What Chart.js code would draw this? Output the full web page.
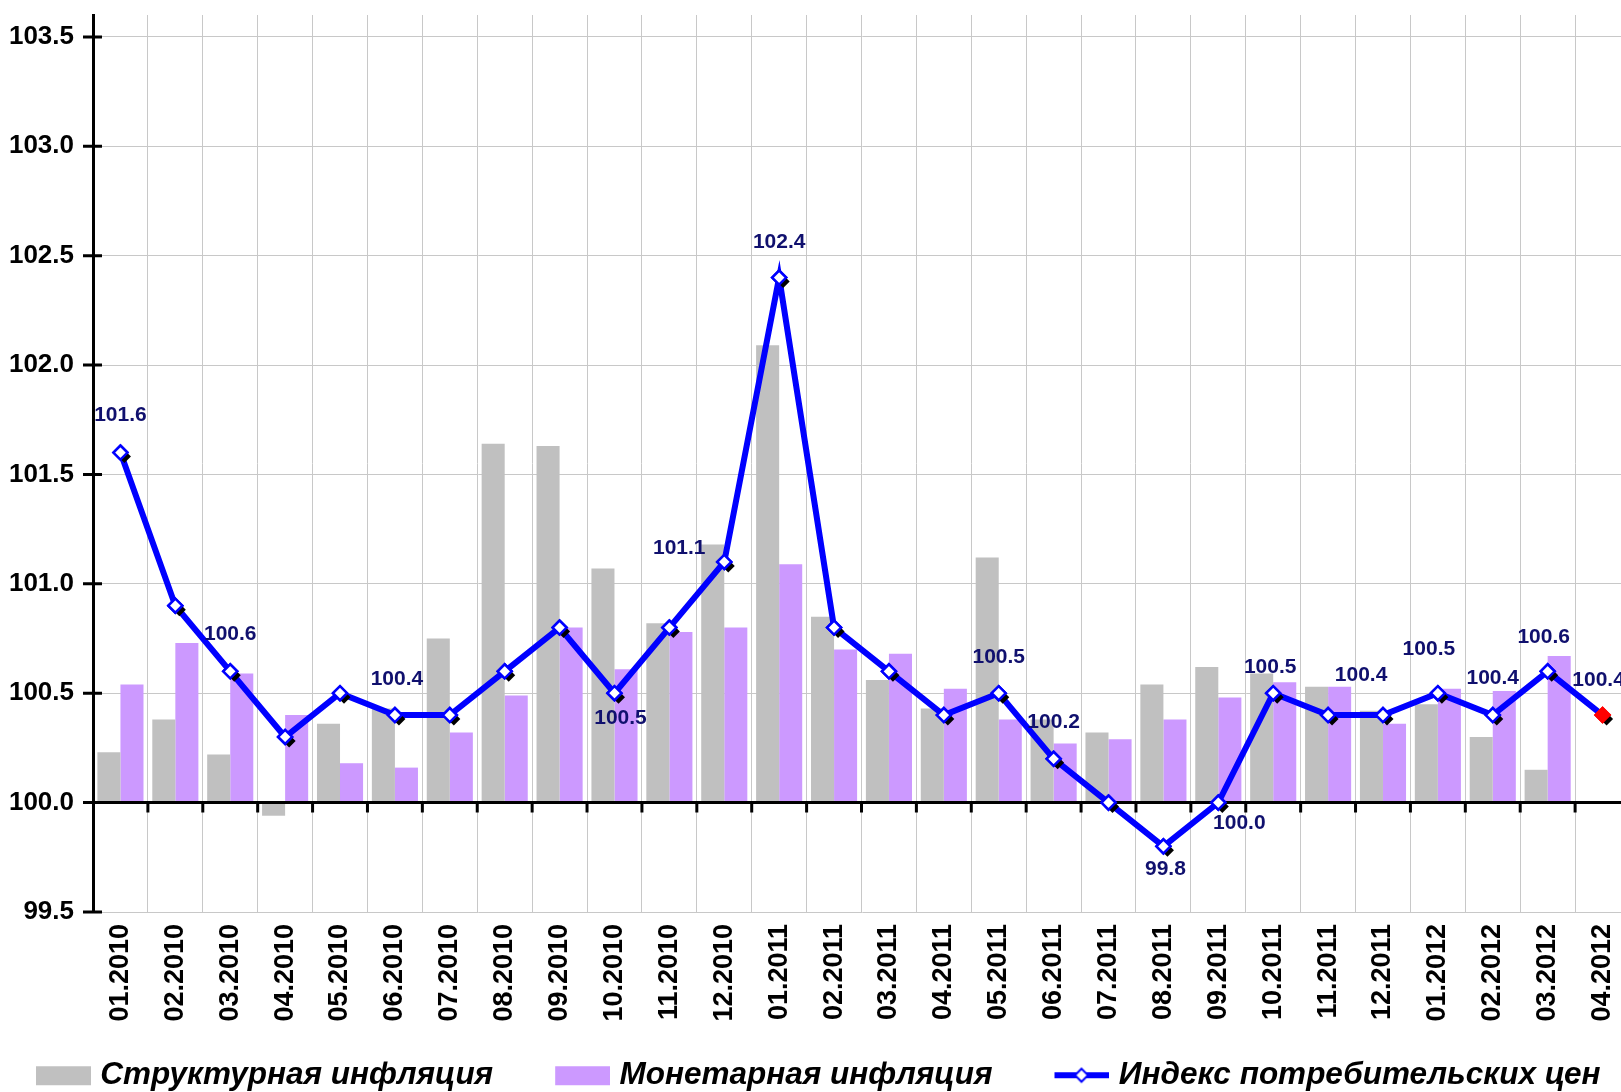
<!DOCTYPE html>
<html lang="ru">
<head>
<meta charset="utf-8">
<title>Инфляция</title>
<script src="https://cdn.jsdelivr.net/npm/chart.js@4.4.1/dist/chart.umd.min.js"></script>
<style>
  html, body { margin: 0; padding: 0; background: #fff; overflow: hidden; }
  #wrap { position: relative; width: 1640px; height: 1092px; }
</style>
</head>
<body>
<div id="wrap"><canvas id="inflChart"></canvas></div>
<script>
// Месяцы
const months = ['01.2010', '02.2010', '03.2010', '04.2010', '05.2010', '06.2010', '07.2010',
  '08.2010', '09.2010', '10.2010', '11.2010', '12.2010', '01.2011', '02.2011', '03.2011',
  '04.2011', '05.2011', '06.2011', '07.2011', '08.2011', '09.2011', '10.2011', '11.2011',
  '12.2011', '01.2012', '02.2012', '03.2012', '04.2012'];

// Структурная инфляция (столбики от 100)
const structural = [100.23, 100.38, 100.22, 99.94, 100.36, 100.43, 100.75, 101.64, 101.63, 101.07,
  100.82, 101.18, 102.09, 100.85, 100.56, 100.43, 101.12, 100.38, 100.32, 100.54, 100.62, 100.59,
  100.53, 100.42, 100.45, 100.30, 100.15, null];

// Монетарная инфляция
const monetary = [100.54, 100.73, 100.59, 100.40, 100.18, 100.16, 100.32, 100.49, 100.80, 100.61,
  100.78, 100.80, 101.09, 100.70, 100.68, 100.52, 100.38, 100.27, 100.29, 100.38, 100.48, 100.55,
  100.53, 100.36, 100.52, 100.51, 100.67, null];

// Индекс потребительских цен
const cpi = [101.6, 100.9, 100.6, 100.3, 100.5, 100.4, 100.4, 100.6, 100.8, 100.5, 100.8, 101.1,
  102.4, 100.8, 100.6, 100.4, 100.5, 100.2, 100.0, 99.8, 100.0, 100.5, 100.4, 100.4, 100.5, 100.4,
  100.6, 100.4];

// Подписи оси Y
const yTicks = [99.5, 100.0, 100.5, 101.0, 101.5, 102.0, 102.5, 103.0, 103.5];

// Где рисовать подписи значений ИПЦ (смещение от точки, px)
const labelPlacement = {
  '01.2010': [0, -37], '03.2010': [0, -37], '06.2010': [2, -36], '10.2010': [6, 25],
  '12.2010': [-45, -14], '01.2011': [0, -35], '05.2011': [0, -36], '06.2011': [0, -37],
  '08.2011': [2, 23], '09.2011': [21, 21], '10.2011': [-3, -26], '11.2011': [33, -40],
  '01.2012': [-9, -44], '02.2012': [0, -37], '03.2012': [-4, -34], '04.2012': [-4, -35]
};

const FONT = '"Liberation Sans", Arial, sans-serif';
const LINE_IDX = 2;
const PAD = { top: 15, right: 10, left: -45, bottom: -9 };
const AREA_LEFT = 93;
const AREA_BOTTOM = 912;

function diamond(ctx, x, y, r) {
  ctx.beginPath();
  ctx.moveTo(x, y - r);
  ctx.lineTo(x + r, y);
  ctx.lineTo(x, y + r);
  ctx.lineTo(x - r, y);
  ctx.closePath();
}

// Значки легенды (картинка шире блока, чтобы сдвинуть значок к тексту)
function makeIcon(draw) {
  const c = document.createElement('canvas');
  c.width = 113; c.height = 22;
  draw(c.getContext('2d'));
  return c;
}
const legendIcons = [
  makeIcon(g => { g.fillStyle = '#c0c0c0'; g.fillRect(58, 2, 55, 19); }),
  makeIcon(g => { g.fillStyle = '#cc99ff'; g.fillRect(58, 2, 55, 19); }),
  makeIcon(g => {
    g.strokeStyle = '#0000ff'; g.lineWidth = 6;
    g.beginPath(); g.moveTo(58, 11); g.lineTo(113, 11); g.stroke();
    diamond(g, 85, 11, 6.5);
    g.fillStyle = '#fff'; g.fill();
    g.lineWidth = 2; g.stroke();
  })
];

// Ось X на уровне 100, засечки, тени маркеров и подписи
const axisMarks = {
  id: 'axisMarks',
  beforeDatasetDraw(chart, args) {
    if (args.index !== LINE_IDX) return;
    const {ctx, chartArea, scales: {x, y}} = chart;
    const y0 = y.getPixelForValue(100);
    ctx.save();
    ctx.strokeStyle = '#000';
    ctx.lineWidth = 3;
    ctx.beginPath();
    ctx.moveTo(chartArea.left, y0);
    ctx.lineTo(chartArea.right, y0);
    for (let i = 1; i < months.length; i++) {
      const bx = (x.getPixelForTick(i - 1) + x.getPixelForTick(i)) / 2;
      ctx.moveTo(bx, y0);
      ctx.lineTo(bx, y0 + 10);
    }
    y.ticks.forEach(t => {
      const ty = y.getPixelForValue(t.value);
      ctx.moveTo(chartArea.left - 10, ty);
      ctx.lineTo(chartArea.left + 9, ty);
    });
    ctx.stroke();
    ctx.restore();
  },
  afterDatasetDraw(chart, args) {
    if (args.index !== LINE_IDX) return;
    const ctx = chart.ctx;
    const pts = args.meta.data;
    ctx.save();
    ctx.fillStyle = '#000';
    pts.forEach(p => { diamond(ctx, p.x + 4, p.y + 4, 6.5); ctx.fill(); });
    ctx.restore();
    pts.forEach(p => p.draw(ctx, chart.chartArea));
    ctx.save();
    ctx.font = 'bold 21px ' + FONT;
    ctx.fillStyle = '#10106e';
    ctx.textAlign = 'center';
    ctx.textBaseline = 'middle';
    months.forEach((m, i) => {
      const off = labelPlacement[m];
      if (!off) return;
      ctx.fillText(cpi[i].toFixed(1), pts[i].x + off[0], pts[i].y + off[1]);
    });
    ctx.restore();
  }
};

function initInflationChart() {
  const ctx = document.getElementById('inflChart').getContext('2d');

  const data = {
    labels: months,
    datasets: [{
      label: 'Структурная инфляция',
      data: structural,
      backgroundColor: '#c0c0c0',
      base: 100,
      borderWidth: 0,
      categoryPercentage: 0.84,
      barPercentage: 1.0,
      order: 0
    }, {
      label: 'Монетарная инфляция',
      data: monetary,
      backgroundColor: '#cc99ff',
      base: 100,
      borderWidth: 0,
      categoryPercentage: 0.84,
      barPercentage: 1.0,
      order: 0
    }, {
      type: 'line',
      label: 'Индекс потребительских цен',
      data: cpi,
      borderColor: '#0000ff',
      borderWidth: 6,
      tension: 0,
      fill: false,
      pointStyle: 'rectRot',
      pointRadius: 7,
      pointBorderWidth: 2.5,
      pointBackgroundColor: cpi.map((v, i) => i === cpi.length - 1 ? '#ff0000' : '#ffffff'),
      pointBorderColor: cpi.map((v, i) => i === cpi.length - 1 ? '#ff0000' : '#0000ff'),
      order: -1
    }]
  };

  const config = {
    type: 'bar',
    data: data,
    plugins: [axisMarks],
    options: {
      responsive: true,
      maintainAspectRatio: false,
      animation: false,
      layout: { padding: PAD },
      font: { family: FONT },
      plugins: {
        tooltip: { enabled: false },
        legend: {
          position: 'bottom',
          labels: {
            usePointStyle: true,
            pointStyleWidth: 100,
            boxHeight: 22,
            padding: 10.5,
            color: '#000',
            font: { family: FONT, size: 31.5, style: 'italic', weight: 'bold' },
            sort: (a, b) => a.datasetIndex - b.datasetIndex,
            generateLabels(chart) {
              const items = Chart.defaults.plugins.legend.labels.generateLabels(chart);
              items.forEach(it => { it.pointStyle = legendIcons[it.datasetIndex]; });
              return items;
            }
          }
        }
      },
      scales: {
        x: {
          offset: true,
          grid: { color: '#c8c8c8', lineWidth: 1, drawTicks: false, offset: true },
          border: { display: false },
          ticks: {
            autoSkip: false,
            minRotation: 90,
            maxRotation: 90,
            padding: 12,
            color: '#000',
            font: { family: FONT, size: 27, weight: 'bold' }
          },
          afterFit(scale) {
            const lg = scale.chart.legend ? scale.chart.legend.height : 0;
            scale.height = scale.chart.height - AREA_BOTTOM - lg - PAD.bottom;
            scale.paddingLeft = 0;
            scale.paddingRight = 0;
          }
        },
        y: {
          min: 99.5,
          max: 103.6,
          grid: { color: '#c8c8c8', lineWidth: 1, drawTicks: false },
          border: { display: true, color: '#000', width: 3 },
          ticks: {
            padding: 19,
            color: '#000',
            font: { family: FONT, size: 26, weight: 'bold' },
            callback: v => v.toFixed(1)
          },
          afterBuildTicks(scale) {
            scale.ticks = yTicks.map(v => ({ value: v }));
          },
          afterFit(scale) {
            scale.width = AREA_LEFT - PAD.left;
            scale.paddingTop = 0;
            scale.paddingBottom = 0;
          }
        }
      }
    }
  };

  new Chart(ctx, config);
}

window.onload = function() {
  initInflationChart();
};
</script>
</body>
</html>
